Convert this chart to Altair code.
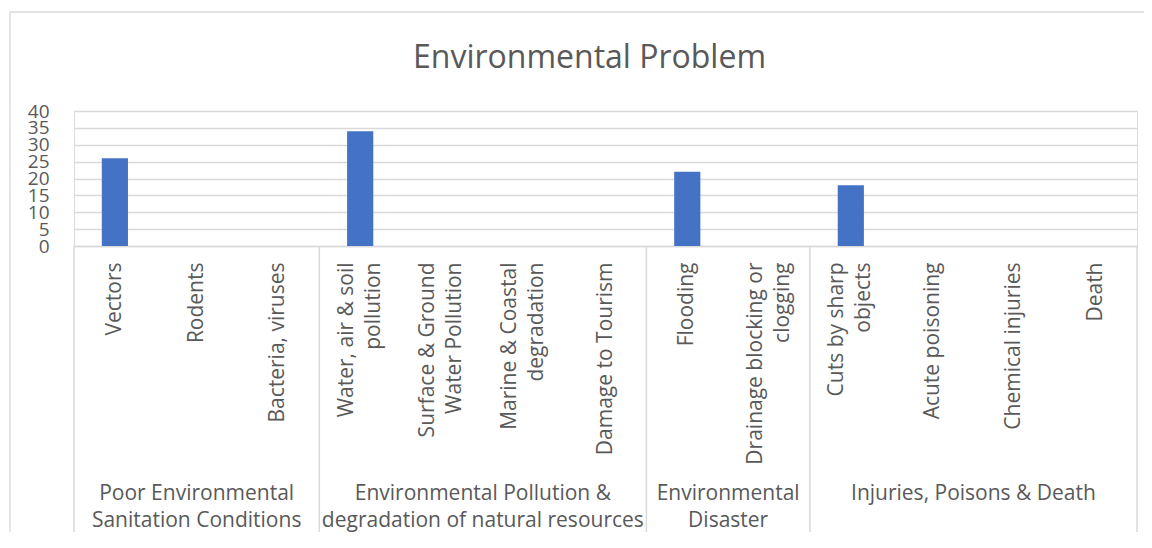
import altair as alt
import pandas as pd

# ---- data ----
groups = [
    "Poor Environmental|Sanitation Conditions",
    "Environmental Pollution &|degradation of natural resources",
    "Environmental|Disaster",
    "Injuries, Poisons & Death",
]
group_items = [
    ["Vectors", "Rodents", "Bacteria, viruses"],
    ["Water, air & soil|pollution", "Surface & Ground|Water Pollution",
     "Marine & Coastal|degradation", "Damage to Tourism"],
    ["Flooding", "Drainage blocking or|clogging"],
    ["Cuts by sharp|objects", "Acute poisoning", "Chemical injuries", "Death"],
]
values = [26, 0, 0, 34, 0, 0, 0, 22, 0, 18, 0, 0, 0]
y_ticks = [0, 5, 10, 15, 20, 25, 30, 35, 40]
title_text = "Environmental Problem"

categories = [c for items in group_items for c in items]
n_cat = len(categories)
bars_df = pd.DataFrame({"category": categories, "value": values})

# group boundaries / centers derived from category counts
bounds = [0]
for items in group_items:
    bounds.append(bounds[-1] + len(items))
groups_df = pd.DataFrame({
    "group": groups,
    "center": [(bounds[i] + bounds[i + 1]) / 2 for i in range(len(groups))],
})
sep_df = pd.DataFrame({"pos": bounds})

FONT = "Open Sans"
GRAY_TXT = "#595959"
GRAY_LINE = "#d9d9d9"
W, H = 1063, 135
LH = 27

bars = alt.Chart(bars_df).mark_bar(width={"band": 0.32}, color="#4472C4").encode(
    x=alt.X(
        "category:N", sort=categories, title=None,
        scale=alt.Scale(paddingInner=0, paddingOuter=0),
        axis=alt.Axis(
            labelAngle=270, labelAlign="right", labelBaseline="middle",
            labelExpr="split(datum.label, '|')",
            labelOffset={"condition": {"test": "indexof(datum.value, '|') >= 0",
                                       "value": -LH / 2},
                         "value": 0},
            labelFont=FONT, labelFontSize=21, labelColor=GRAY_TXT,
            labelLineHeight=LH, labelPadding=16, labelLimit=0,
            labelOverlap=False, ticks=False,
            domainColor=GRAY_LINE, domainWidth=1.5, grid=False,
        ),
    ),
    y=alt.Y(
        "value:Q", title=None,
        scale=alt.Scale(domain=[0, 40], nice=False),
        axis=alt.Axis(
            values=y_ticks, domain=False, ticks=False, labelOverlap=False,
            labelFont=FONT, labelFontSize=19, labelColor=GRAY_TXT,
            labelPadding=25, gridColor=GRAY_LINE, gridWidth=1.3,
        ),
    ),
)

xq = alt.Scale(domain=[0, n_cat], nice=False, zero=False)

seps = alt.Chart(sep_df).mark_rule(color=GRAY_LINE, strokeWidth=1.5).encode(
    x=alt.X("pos:Q", scale=xq, axis=None),
    y=alt.value(H),
    y2=alt.value(H + 300),
)

group_labels = alt.Chart(groups_df).mark_text(
    font=FONT, fontSize=21, color=GRAY_TXT, lineBreak="|", lineHeight=LH,
    align="center", baseline="middle",
).encode(
    x=alt.X("center:Q", scale=xq, axis=None),
    y=alt.value(H + 248),
    text="group:N",
)

border = alt.Chart(pd.DataFrame({"k": [0]})).mark_rect(
    filled=False, stroke=GRAY_LINE, strokeWidth=1.3,
).encode(
    x=alt.value(-64), x2=alt.value(W + 200),
    y=alt.value(-99), y2=alt.value(H + 400),
)

chart = alt.layer(border, bars, seps, group_labels).resolve_scale(
    x="independent"
).properties(
    width=W, height=H,
    title=alt.TitleParams(
        title_text, font=FONT, fontSize=32, fontWeight="normal",
        color=GRAY_TXT, anchor="middle", baseline="alphabetic",
        offset=-89, dx=-16,
    ),
    autosize=alt.AutoSizeParams(type="none"),
    padding={"left": 66, "top": 103, "right": 7, "bottom": 286},
).configure_view(strokeWidth=0).configure(background="white")

chart.save("out.html", embed_options={"renderer": "svg", "actions": False})
